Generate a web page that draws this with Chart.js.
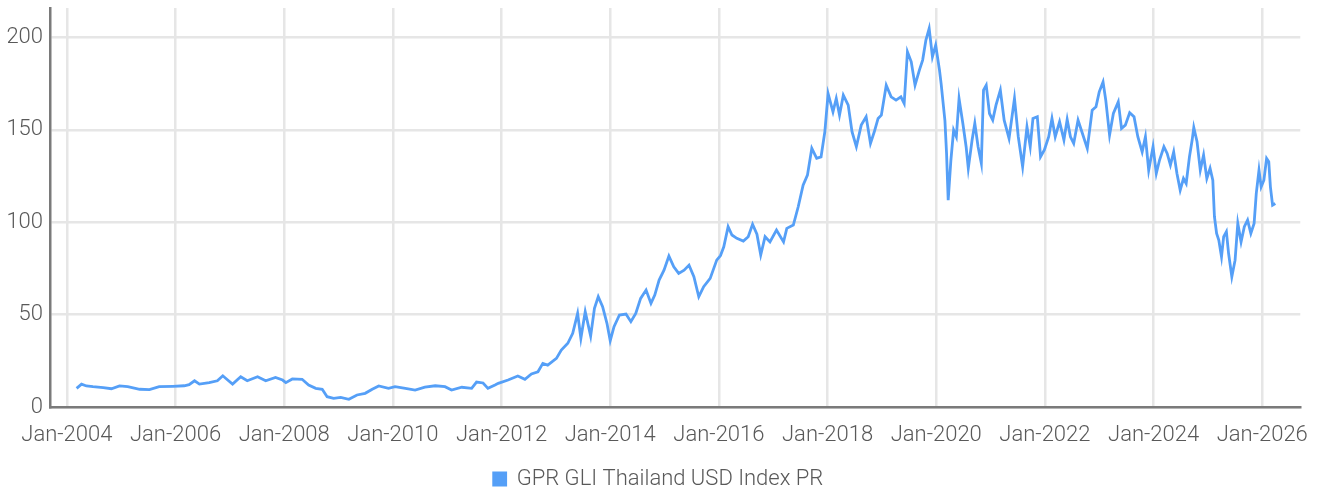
<!DOCTYPE html>
<html>
<head>
<meta charset="utf-8">
<script src="https://cdn.jsdelivr.net/npm/chart.js@4.4.1/dist/chart.umd.min.js"></script>
<style>
    html, body { margin: 0; padding: 0; background: #fff; }
    #wrap { width: 1323px; height: 493px; }
</style>
</head>
<body>
<div id="wrap"><canvas id="gprChart" width="1323" height="493"></canvas></div>
<script>
// positions in decimal years and index levels
const yearPos = [
    2004.18, 2004.27, 2004.36, 2004.48, 2004.67, 2004.82, 2004.97, 2005.12, 2005.34, 2005.52,
    2005.70, 2005.95, 2006.16, 2006.25, 2006.35, 2006.44, 2006.62, 2006.77, 2006.87, 2006.96,
    2007.05, 2007.20, 2007.32, 2007.51, 2007.66, 2007.84, 2007.97, 2008.03, 2008.15, 2008.33,
    2008.45, 2008.58, 2008.70, 2008.79, 2008.91, 2009.04, 2009.19, 2009.34, 2009.49, 2009.62,
    2009.74, 2009.92, 2010.04, 2010.23, 2010.41, 2010.59, 2010.78, 2010.96, 2011.08, 2011.27,
    2011.45, 2011.54, 2011.66, 2011.75, 2011.88, 2011.94, 2012.12, 2012.30, 2012.43, 2012.55,
    2012.67, 2012.76, 2012.85, 2013.01, 2013.10, 2013.22, 2013.31, 2013.40, 2013.46, 2013.54,
    2013.64, 2013.71, 2013.78, 2013.86, 2013.94, 2014.00, 2014.07, 2014.17, 2014.29, 2014.38,
    2014.47, 2014.56, 2014.66, 2014.75, 2014.82, 2014.90, 2014.99, 2015.08, 2015.17, 2015.26,
    2015.36, 2015.45, 2015.54, 2015.63, 2015.72, 2015.84, 2015.96, 2016.03, 2016.09, 2016.17,
    2016.24, 2016.33, 2016.45, 2016.54, 2016.62, 2016.70, 2016.77, 2016.85, 2016.94, 2017.06,
    2017.19, 2017.25, 2017.37, 2017.46, 2017.55, 2017.63, 2017.71, 2017.80, 2017.88, 2017.95,
    2018.01, 2018.10, 2018.16, 2018.22, 2018.29, 2018.38, 2018.45, 2018.53, 2018.62, 2018.71,
    2018.79, 2018.86, 2018.93, 2018.99, 2019.08, 2019.17, 2019.26, 2019.35, 2019.41, 2019.47,
    2019.54, 2019.61, 2019.69, 2019.75, 2019.81, 2019.87, 2019.93, 2019.99, 2020.06, 2020.09,
    2020.16, 2020.19, 2020.22, 2020.27, 2020.32, 2020.37, 2020.42, 2020.49, 2020.55, 2020.59,
    2020.66, 2020.71, 2020.77, 2020.83, 2020.87, 2020.92, 2020.98, 2021.04, 2021.10, 2021.18,
    2021.25, 2021.34, 2021.44, 2021.51, 2021.59, 2021.67, 2021.73, 2021.78, 2021.86, 2021.92,
    2021.99, 2022.07, 2022.13, 2022.19, 2022.27, 2022.35, 2022.41, 2022.47, 2022.53, 2022.61,
    2022.68, 2022.78, 2022.87, 2022.94, 2023.00, 2023.07, 2023.12, 2023.19, 2023.26, 2023.35,
    2023.41, 2023.48, 2023.56, 2023.64, 2023.71, 2023.79, 2023.85, 2023.91, 2023.99, 2024.05,
    2024.11, 2024.19, 2024.25, 2024.31, 2024.37, 2024.43, 2024.49, 2024.55, 2024.60, 2024.66,
    2024.71, 2024.74, 2024.80, 2024.86, 2024.92, 2024.98, 2025.04, 2025.09, 2025.12, 2025.16,
    2025.20, 2025.25, 2025.29, 2025.34, 2025.38, 2025.44, 2025.50, 2025.55, 2025.61, 2025.67,
    2025.73, 2025.79, 2025.85, 2025.89, 2025.94, 2025.98, 2026.03, 2026.08, 2026.12, 2026.15,
    2026.19, 2026.24
];

const indexValues = [
    10.1, 12.4, 11.4, 11.0, 10.5, 9.9, 11.4, 11.0, 9.6, 9.4,
    11.0, 11.2, 11.5, 12.1, 14.2, 12.4, 13.2, 14.2, 16.9, 14.6,
    12.4, 16.4, 14.2, 16.4, 14.2, 16.0, 14.6, 13.2, 15.2, 15.0,
    11.9, 10.1, 9.6, 5.6, 4.7, 5.2, 4.2, 6.5, 7.4, 9.6,
    11.4, 10.1, 11.0, 10.1, 9.2, 10.7, 11.5, 11.0, 9.2, 10.7,
    10.1, 13.5, 13.0, 10.1, 11.9, 12.8, 14.6, 16.8, 15.0, 17.9,
    19.1, 23.6, 22.7, 26.3, 30.8, 34.5, 39.9, 50.7, 37.2, 51.6,
    38.4, 53.4, 59.7, 54.3, 45.3, 35.9, 43.5, 49.8, 50.3, 46.2,
    50.7, 58.8, 63.3, 56.1, 60.6, 68.7, 74.1, 81.7, 75.9, 72.3,
    74.1, 76.8, 70.5, 59.7, 65.1, 69.6, 79.5, 82.0, 86.7, 97.6,
    93.1, 91.3, 89.8, 92.2, 98.9, 93.5, 82.3, 92.2, 89.4, 95.8,
    89.4, 96.7, 98.5, 108.4, 120.1, 125.5, 140.0, 134.6, 135.4, 149.0,
    169.7, 159.8, 167.0, 158.0, 168.8, 163.4, 149.0, 140.9, 152.6, 157.1,
    142.7, 149.0, 156.2, 158.0, 174.2, 167.9, 166.1, 167.9, 164.3, 192.3,
    186.9, 174.2, 182.4, 187.8, 198.6, 204.9, 189.6, 195.9, 182.4, 175.1,
    155.0, 137.3, 112.0, 133.7, 149.9, 146.3, 167.0, 153.5, 140.9, 129.2,
    144.5, 153.5, 140.9, 131.9, 171.5, 174.2, 158.9, 155.3, 163.4, 171.5,
    155.3, 145.4, 167.0, 146.3, 130.1, 151.7, 140.9, 156.2, 157.1, 135.4,
    139.1, 146.3, 156.2, 146.3, 154.4, 144.5, 155.7, 146.3, 142.7, 155.3,
    149.0, 140.0, 160.7, 162.5, 170.6, 176.0, 166.1, 147.2, 158.9, 165.2,
    150.8, 152.6, 159.3, 157.1, 146.3, 138.1, 146.3, 128.2, 140.9, 126.4,
    133.7, 140.9, 137.3, 131.0, 138.1, 126.4, 117.4, 123.7, 121.0, 135.4,
    144.5, 151.3, 143.6, 128.2, 136.4, 123.7, 129.2, 122.8, 103.0, 94.0,
    90.4, 81.3, 92.2, 94.9, 83.2, 70.5, 79.5, 99.4, 89.4, 97.6,
    101.2, 94.0, 99.4, 115.6, 128.2, 119.2, 122.8, 134.6, 132.8, 119.2,
    109.3, 110.2
];

const tickYears = [2004, 2006, 2008, 2010, 2012, 2014, 2016, 2018, 2020, 2022, 2024, 2026];
const seriesName = 'GPR GLI Thailand USD Index PR';

const lineBlue = '#559ff7';
const textGrey = '#595959';
const fontFamily = "Roboto, 'Liberation Sans', sans-serif";

const ctx = document.getElementById('gprChart').getContext('2d');
new Chart(ctx, {
    type: 'line',
    data: {
        datasets: [{
            label: seriesName,
            data: yearPos.map((x, i) => ({ x: x, y: indexValues[i] })),
            borderColor: lineBlue,
            backgroundColor: lineBlue,
            borderWidth: 2.8,
            pointRadius: 0,
            tension: 0
        }]
    },
    options: {
        responsive: false,
        animation: false,
        // negative bottom padding pushes the legend row down to where the original sits
        layout: { padding: { top: 2, right: 6, left: 0, bottom: -7 } },
        plugins: {
            tooltip: { enabled: false },
            legend: {
                position: 'bottom',
                labels: {
                    boxWidth: 12,
                    boxHeight: 12,
                    padding: 2,
                    color: textGrey,
                    font: { family: fontFamily, size: 22, weight: 300 }
                }
            }
        },
        scales: {
            x: {
                type: 'linear',
                min: 2003.69,
                max: 2026.70,
                afterBuildTicks: axis => { axis.ticks = tickYears.map(v => ({ value: v })); },
                afterFit: axis => { axis.height = 59; },
                grid: { color: '#e6e6e6', lineWidth: 2.5, drawTicks: false },
                border: { color: '#7a7a7a', width: 2.5 },
                ticks: {
                    padding: 15,
                    maxRotation: 0,
                    autoSkip: false,
                    color: textGrey,
                    font: { family: fontFamily, size: 22, weight: 300 },
                    callback: v => 'Jan-' + v
                }
            },
            y: {
                min: 0,
                max: 216,
                afterFit: axis => { axis.width = 50; },
                grid: { color: '#e6e6e6', lineWidth: 2.5, drawTicks: false },
                border: { color: '#7a7a7a', width: 2.5 },
                ticks: {
                    stepSize: 50,
                    includeBounds: false,
                    padding: 7,
                    color: textGrey,
                    font: { family: fontFamily, size: 22, weight: 300, lineHeight: '2px' }
                }
            }
        }
    }
});
</script>
</body>
</html>
